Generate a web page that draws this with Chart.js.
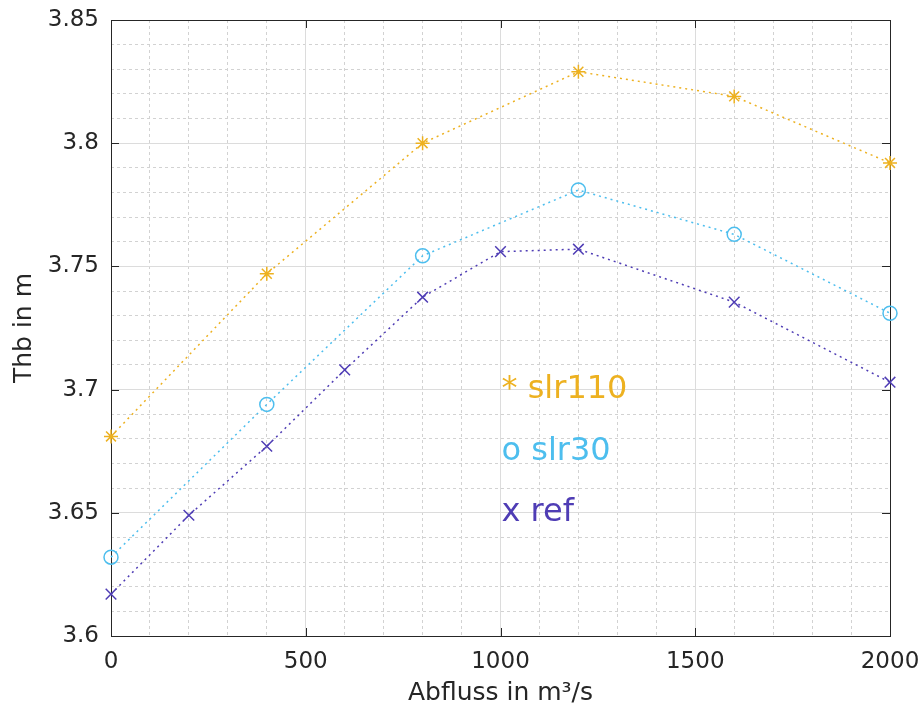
<!DOCTYPE html>
<html lang="de">
<head>
<meta charset="UTF-8">
<title>Thb über Abfluss</title>
<style>
  html, body { margin: 0; padding: 0; background: #fff; }
  #Wrap { width: 921px; height: 708px; }
</style>
</head>
<body>
<div id="Wrap"><canvas id="Grafico" width="921" height="708"></canvas></div>
<script src="https://cdn.jsdelivr.net/npm/chart.js"></script>
<script>
// dados
const abflussRef = [0, 200, 400, 600, 800, 1000, 1200, 1600, 2000];
const thbRef = [3.617, 3.649, 3.677, 3.708, 3.7375, 3.756, 3.757, 3.7355, 3.703];
const abflussSlr = [0, 400, 800, 1200, 1600, 2000];
const thbSlr30 = [3.632, 3.694, 3.7543, 3.781, 3.763, 3.731];
const thbSlr110 = [3.681, 3.747, 3.800, 3.829, 3.819, 3.792];
const serieNomes = ['slr110', 'slr30', 'ref'];
const serieMarcas = ['*', 'o', 'x'];
const serieCores = ['#EDB120', '#4DBEEE', '#4F3DB5'];

const fonte = 'DejaVu Sans';
const corTexto = '#262626';

function pontos(xs, ys) {
    return xs.map((x, i) => ({ x: x, y: ys[i] }));
}

function serie(idx, xs, ys, estilo, raio) {
    return {
        label: serieNomes[idx],
        data: pontos(xs, ys),
        showLine: true,
        borderColor: serieCores[idx],
        backgroundColor: 'rgba(0,0,0,0)',
        borderWidth: 1.5,
        borderDash: [2, 4],
        pointStyle: estilo,
        pointRadius: raio,
        pointBorderWidth: 1.5,
        pointBorderColor: serieCores[idx],
        pointBackgroundColor: 'rgba(0,0,0,0)',
        clip: false
    };
}

function ehMultiplo(v, passo) {
    const r = v / passo;
    return Math.abs(r - Math.round(r)) < 1e-6;
}

// sem folga extra dos rótulos: a área do gráfico fica fixa
function semFolga(s) {
    s.paddingTop = 0;
    s.paddingBottom = 0;
    s.paddingLeft = 0;
    s.paddingRight = 0;
}

// moldura e marcas de escala para dentro (estilo MATLAB)
const moldura = {
    id: 'moldura',
    beforeDatasetsDraw(chart) {
        const { ctx, chartArea: a, scales } = chart;
        ctx.save();
        ctx.strokeStyle = corTexto;
        ctx.lineWidth = 1;
        ctx.strokeRect(a.left + 0.5, a.top + 0.5, a.right - a.left, a.bottom - a.top);
        scales.x.ticks.forEach((t, i) => {
            const px = Math.round(scales.x.getPixelForTick(i)) + 0.5;
            ctx.beginPath();
            ctx.moveTo(px, a.bottom); ctx.lineTo(px, a.bottom - 8);
            ctx.moveTo(px, a.top); ctx.lineTo(px, a.top + 8);
            ctx.stroke();
        });
        scales.y.ticks.forEach((t, i) => {
            const py = Math.round(scales.y.getPixelForTick(i)) + 0.5;
            ctx.beginPath();
            ctx.moveTo(a.left, py); ctx.lineTo(a.left + 8, py);
            ctx.moveTo(a.right, py); ctx.lineTo(a.right - 8, py);
            ctx.stroke();
        });
        ctx.restore();
    }
};

// legendas em texto dentro do gráfico
const rotulos = {
    id: 'rotulos',
    afterDatasetsDraw(chart) {
        const { ctx, scales } = chart;
        const posY = [3.70, 3.675, 3.65];
        ctx.save();
        ctx.font = '32px "' + fonte + '"';
        ctx.textAlign = 'left';
        ctx.textBaseline = 'middle';
        serieNomes.forEach((nome, i) => {
            ctx.fillStyle = serieCores[i];
            ctx.fillText(serieMarcas[i] + ' ' + nome,
                scales.x.getPixelForValue(1000) + 1,
                scales.y.getPixelForValue(posY[i]));
        });
        ctx.restore();
    }
};

const config = {
    type: 'scatter',
    data: {
        datasets: [
            serie(0, abflussSlr, thbSlr110, 'star', 7),
            serie(1, abflussSlr, thbSlr30, 'circle', 7),
            serie(2, abflussRef, thbRef, 'crossRot', 7.5)
        ]
    },
    options: {
        responsive: false,
        animation: false,
        layout: { padding: { left: 0, right: 31, top: 20, bottom: 0 } },
        plugins: {
            legend: { display: false },
            tooltip: { enabled: false }
        },
        scales: {
            xm: {
                type: 'linear', axis: 'x', position: 'bottom',
                min: 0, max: 2000,
                ticks: { display: false, stepSize: 100 },
                border: { display: false, dash: [3, 3] },
                grid: {
                    drawTicks: false,
                    lineWidth: 1,
                    color: c => ehMultiplo(c.tick.value, 500) ? 'rgba(0,0,0,0)' : '#d2d2d2'
                },
                afterFit: s => { s.height = 0; semFolga(s); }
            },
            ym: {
                type: 'linear', axis: 'y', position: 'left',
                min: 3.6, max: 3.85,
                ticks: { display: false, stepSize: 0.01 },
                border: { display: false, dash: [3, 3] },
                grid: {
                    drawTicks: false,
                    lineWidth: 1,
                    color: c => ehMultiplo(c.tick.value, 0.05) ? 'rgba(0,0,0,0)' : '#d2d2d2'
                },
                afterFit: s => { s.width = 0; semFolga(s); }
            },
            x: {
                type: 'linear', position: 'bottom',
                min: 0, max: 2000,
                ticks: {
                    stepSize: 500,
                    padding: 12,
                    color: corTexto,
                    font: { family: fonte, size: 23 },
                    maxRotation: 0,
                    callback: v => String(v)
                },
                border: { display: false },
                grid: { drawTicks: false, color: '#dcdcdc', lineWidth: 1 },
                title: {
                    display: true,
                    text: 'Abfluss in m³/s',
                    color: corTexto,
                    font: { family: fonte, size: 25 },
                    padding: { top: 0, bottom: 0 }
                },
                afterFit: s => { s.height = 72; semFolga(s); }
            },
            y: {
                type: 'linear', position: 'left',
                min: 3.6, max: 3.85,
                ticks: {
                    stepSize: 0.05,
                    padding: 12,
                    color: corTexto,
                    font: { family: fonte, size: 23 },
                    callback: v => String(+v.toFixed(2))
                },
                border: { display: false },
                grid: { drawTicks: false, color: '#dcdcdc', lineWidth: 1 },
                title: {
                    display: true,
                    text: 'Thb in m',
                    color: corTexto,
                    font: { family: fonte, size: 25 },
                    padding: { top: 9, bottom: 0 }
                },
                afterFit: s => { s.width = 111; semFolga(s); }
            }
        }
    },
    plugins: [moldura, rotulos]
};

new Chart(document.getElementById('Grafico'), config);
</script>
</body>
</html>
